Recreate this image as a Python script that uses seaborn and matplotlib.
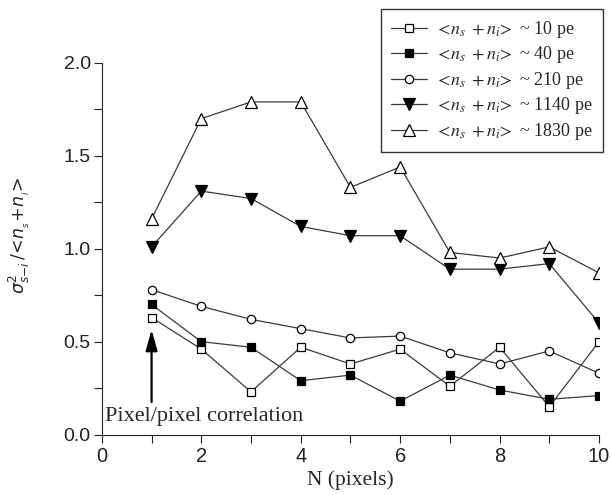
import numpy as np
import pandas as pd
import seaborn as sns
import matplotlib.pyplot as plt
from matplotlib.ticker import MultipleLocator

# values
n_pixels = [1, 2, 3, 4, 5, 6, 7, 8, 9, 10]
pe_10 = [0.63, 0.46, 0.23, 0.47, 0.38, 0.46, 0.26, 0.47, 0.15, 0.50]
pe_40 = [0.70, 0.50, 0.47, 0.29, 0.32, 0.18, 0.32, 0.24, 0.19, 0.21]
pe_210 = [0.78, 0.69, 0.62, 0.57, 0.52, 0.53, 0.44, 0.38, 0.45, 0.33]
pe_1140 = [1.01, 1.31, 1.27, 1.12, 1.07, 1.07, 0.89, 0.89, 0.92, 0.60]
pe_1830 = [1.16, 1.70, 1.79, 1.79, 1.33, 1.44, 0.98, 0.95, 1.01, 0.87]
labels = ["10", "40", "210", "1140", "1830"]

series = [pe_10, pe_40, pe_210, pe_1140, pe_1830]
markers = ["s", "s", "o", "v", "^"]
facecols = ["white", "black", "white", "black", "white"]
msizes = [6, 6, 6, 8, 8]

sns.set_style("ticks")
plt.rcParams['font.family'] = ['Liberation Sans', 'DejaVu Sans']

fig = plt.figure(figsize=(6.1, 4.95), dpi=100)
ax = fig.add_axes([0.167, 0.122, 0.815, 0.751])

for vals, lab, mk, fc, ms in zip(series, labels, markers, facecols, msizes):
    df = pd.DataFrame({"N": n_pixels, "v": vals})
    sns.lineplot(data=df, x="N", y="v", ax=ax, color="#3a3a3a", lw=0.9,
                 marker=mk, markersize=ms, markerfacecolor=fc,
                 markeredgecolor="black", markeredgewidth=0.9,
                 label=r"$<\!n_s\;+n_i\!>$ ~ " + lab + " pe")

ax.set_xlim(0, 10)
ax.set_ylim(0, 2.0)
ax.xaxis.set_major_locator(MultipleLocator(2))
ax.xaxis.set_minor_locator(MultipleLocator(1))
ax.yaxis.set_major_locator(MultipleLocator(0.5))
ax.yaxis.set_minor_locator(MultipleLocator(0.25))
ax.yaxis.set_major_formatter(plt.FormatStrFormatter("%.1f"))
ax.tick_params(which="both", direction="out", length=6, width=0.8, colors="#222222")
ax.tick_params(axis="x", labelsize=14.5, pad=3)
ax.tick_params(axis="y", labelsize=14, pad=2)
sns.despine(ax=ax)
for s in ["left", "bottom"]:
    ax.spines[s].set_color("#222222")
    ax.spines[s].set_linewidth(0.8)

ax.set_xlabel("N (pixels)", family="Liberation Serif", fontsize=15.5, labelpad=3)
ylab = ax.set_ylabel(r"$\sigma^2_{s\mathrm{-}i}\,/\!<\!n_{_s}\!+\!n_{_i}\!>$", fontsize=12.5)
ylab.set_math_fontfamily("dejavusans")
ax.yaxis.set_label_coords(-0.14, 0.537)

ax.annotate("", xy=(1, 0.58), xytext=(1, 0.16),
            arrowprops=dict(arrowstyle="-|>,head_width=0.25,head_length=0.9",
                            color="black", lw=1.6, mutation_scale=14))
ax.text(0.06, 0.075, "Pixel/pixel correlation", family="Liberation Serif", fontsize=16)

leg = ax.legend(loc="upper right", bbox_to_anchor=(0.9885, 0.982),
                bbox_transform=fig.transFigure, borderaxespad=0, frameon=True,
                fancybox=False, prop={"family": "Liberation Serif", "size": 13},
                labelspacing=0.25, handlelength=2.0, handletextpad=0.45, borderpad=0.55)
leg.get_frame().set_edgecolor("black")
leg.get_frame().set_linewidth(1.0)
for t in leg.get_texts():
    t.set_math_fontfamily("stix")

fig.savefig("out.png", dpi=100)
